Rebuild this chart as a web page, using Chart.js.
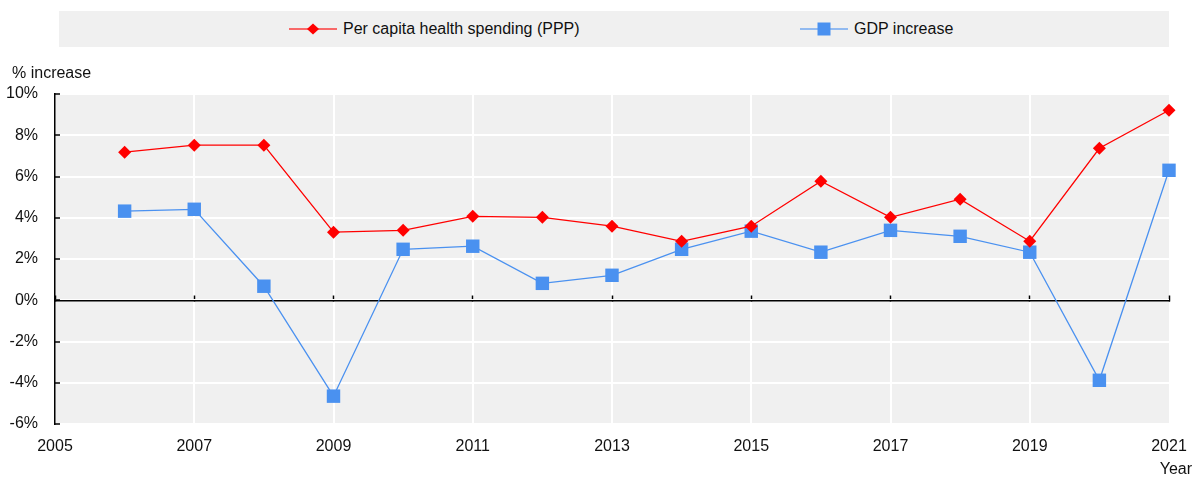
<!DOCTYPE html>
<html>
<head>
<meta charset="utf-8">
<script src="https://cdn.jsdelivr.net/npm/chart.js@4.4.1/dist/chart.umd.min.js"></script>
<style>
  html, body { margin: 0; padding: 0; background: #fff; }
  #wrap { position: relative; width: 1196px; height: 478px; font-family: 'Liberation Sans', Arial, sans-serif; }
  #legend { position: absolute; left: 59px; top: 11px; width: 1110px; height: 36px; background: #f0f0f0; }
  #legend .item { position: absolute; top: 0; height: 36px; display: flex; align-items: center; font-size: 16px; color: #111; white-space: nowrap; }
  #legend svg { margin-right: 6px; }
  canvas { position: absolute; left: 0; top: 0; }
</style>
</head>
<body>
<div id="wrap">
  <div id="legend"></div>
  <canvas id="chart" width="1196" height="478"></canvas>
</div>
<script>
// data
const years = [2006, 2007, 2008, 2009, 2010, 2011, 2012, 2013, 2014, 2015, 2016, 2017, 2018, 2019, 2020, 2021];
const healthSpending = [7.18, 7.52, 7.52, 3.30, 3.39, 4.07, 4.02, 3.59, 2.86, 3.59, 5.77, 4.02, 4.90, 2.86, 7.37, 9.21];
const gdpIncrease = [4.32, 4.41, 0.68, -4.65, 2.47, 2.62, 0.82, 1.21, 2.47, 3.35, 2.33, 3.39, 3.10, 2.33, -3.88, 6.30];

const xTickYears = [2005, 2007, 2009, 2011, 2013, 2015, 2017, 2019, 2021];
const yTickValues = [-6, -4, -2, 0, 2, 4, 6, 8, 10];

const seriesLabels = ['Per capita health spending (PPP)', 'GDP increase'];
const RED = '#ff0000';
const BLUE = '#4a91f0';
const FONT = "'Liberation Sans', Arial, sans-serif";
const FONT_SIZE = 16;

const toPoints = vals => years.map((yr, i) => ({ x: yr, y: vals[i] }));

// grey plot background + loose texts
const plotBackground = {
    id: 'plotBackground',
    beforeDraw(chart) {
        const { ctx, chartArea: a } = chart;
        ctx.save();
        ctx.fillStyle = '#f0f0f0';
        ctx.fillRect(a.left, a.top, a.right - a.left, a.bottom - a.top);
        ctx.restore();
    },
    afterDraw(chart) {
        const { ctx, chartArea: a } = chart;
        ctx.save();
        ctx.fillStyle = '#111';
        ctx.font = FONT_SIZE + 'px ' + FONT;
        ctx.textBaseline = 'alphabetic';
        ctx.textAlign = 'left';
        ctx.fillText('% increase', 12, a.top - 16);
        ctx.textAlign = 'right';
        ctx.fillText('Year', a.right + 23, 474);
        ctx.restore();
    }
};

const chart = new Chart(document.getElementById('chart'), {
    type: 'line',
    data: {
        datasets: [{
            label: seriesLabels[0],
            data: toPoints(healthSpending),
            borderColor: RED,
            backgroundColor: RED,
            borderWidth: 1.3,
            pointStyle: 'rectRot',
            pointRadius: 6.5,
            pointBorderWidth: 0,
            pointHoverRadius: 6.5,
            tension: 0,
            clip: false
        }, {
            label: seriesLabels[1],
            data: toPoints(gdpIncrease),
            borderColor: BLUE,
            backgroundColor: BLUE,
            borderWidth: 1.3,
            pointStyle: 'rect',
            pointRadius: 9.5,
            pointBorderWidth: 0,
            pointHoverRadius: 9.5,
            tension: 0,
            clip: false
        }]
    },
    options: {
        responsive: false,
        animation: false,
        events: [],
        layout: { padding: { top: 94, right: 27, bottom: 0, left: 0 } },
        plugins: {
            legend: { display: false },
            tooltip: { enabled: false }
        },
        scales: {
            x: {
                type: 'linear',
                min: 2005,
                max: 2021,
                afterBuildTicks: s => { s.ticks = xTickYears.map(v => ({ value: v })); },
                afterFit: s => { s.height = 54; s.paddingLeft = 0; s.paddingRight = 0; },
                ticks: {
                    callback: v => String(v),
                    color: '#111',
                    padding: 13,
                    maxRotation: 0,
                    font: { family: FONT, size: FONT_SIZE }
                },
                grid: {
                    color: c => (c.tick && (c.tick.value === 2005 || c.tick.value === 2021)) ? 'rgba(0,0,0,0)' : '#ffffff',
                    lineWidth: 2,
                    drawTicks: false
                },
                border: { display: false }
            },
            // zero line with its little tick marks
            x2: {
                type: 'linear',
                position: { y: 0 },
                min: 2005,
                max: 2021,
                afterBuildTicks: s => { s.ticks = xTickYears.map(v => ({ value: v })); },
                afterFit: s => { s.paddingLeft = 0; s.paddingRight = 0; },
                ticks: { display: false },
                grid: {
                    drawOnChartArea: false,
                    drawTicks: true,
                    tickLength: -6,
                    tickColor: '#000',
                    tickWidth: 1.5
                },
                border: { display: true, color: '#000', width: 1.5 }
            },
            y: {
                min: -6,
                max: 10,
                afterBuildTicks: s => { s.ticks = yTickValues.map(v => ({ value: v })); },
                afterFit: s => { s.width = 55; s.paddingTop = 0; s.paddingBottom = 0; },
                ticks: {
                    callback: v => v + '%',
                    color: '#111',
                    padding: 22,
                    font: { family: FONT, size: FONT_SIZE }
                },
                grid: {
                    color: '#ffffff',
                    lineWidth: 2,
                    tickColor: '#000',
                    tickWidth: 1.5,
                    tickLength: -5
                },
                border: { display: true, color: '#000', width: 1.5 }
            }
        }
    },
    plugins: [plotBackground]
});

// legend: line sample with marker, then the series name
const legendPos = [230, 741];
const legendEl = document.getElementById('legend');
chart.data.datasets.forEach((ds, i) => {
    const item = document.createElement('div');
    item.className = 'item';
    item.style.left = legendPos[i] + 'px';
    const marker = ds.pointStyle === 'rectRot'
        ? '<polygon points="24,1.5 30,7 24,12.5 18,7" fill="' + ds.backgroundColor + '"/>'
        : '<rect x="17.5" y="0.5" width="13" height="13" fill="' + ds.backgroundColor + '"/>';
    item.innerHTML = '<svg width="48" height="14" viewBox="0 0 48 14">' +
        '<line x1="0" y1="7" x2="48" y2="7" stroke="' + ds.borderColor + '" stroke-width="1.5" opacity="0.75"/>' +
        marker + '</svg><span>' + ds.label + '</span>';
    legendEl.appendChild(item);
});
</script>
</body>
</html>
